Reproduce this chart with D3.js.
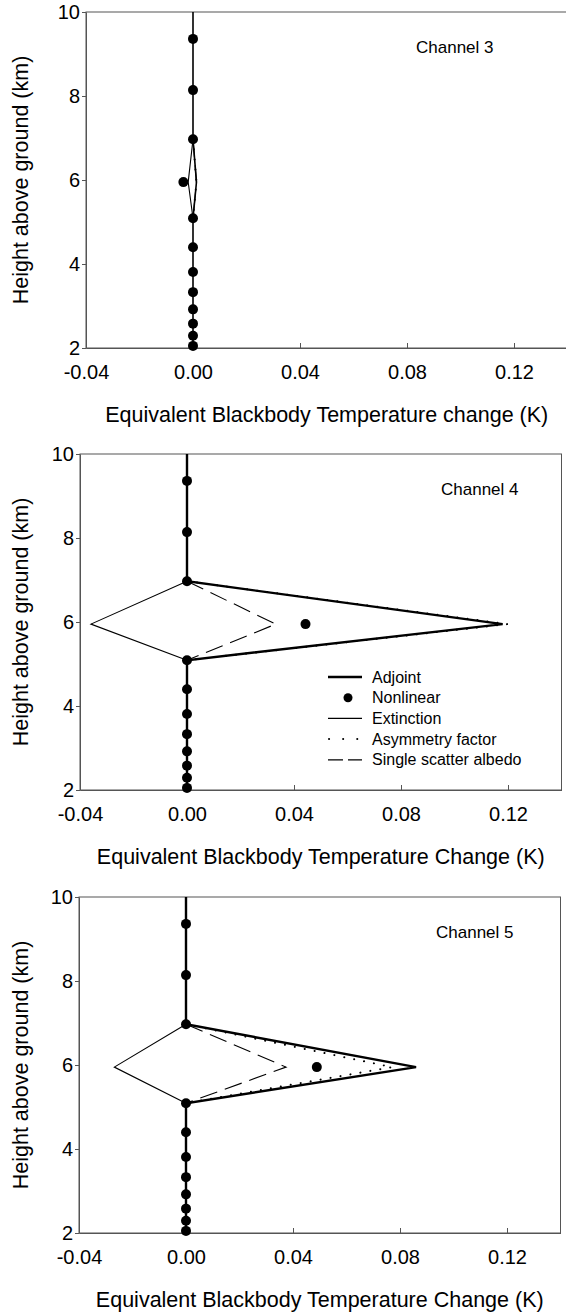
<!DOCTYPE html>
<html>
<head>
<meta charset="utf-8">
<script src="https://cdn.jsdelivr.net/npm/d3@7"></script>
<style>
    body { margin: 0; background: #fff; }
    svg { display: block; font-family: "Liberation Sans", Arial, sans-serif; }
</style>
</head>
<body>
<div id="chart"></div>
<script>
// levels (km) used by the adjoint profile, perturbed layer values per channel
const levels = [2.0, 2.05, 2.29, 2.58, 2.92, 3.33, 3.81, 4.40, 5.09, 5.95, 6.97, 8.14, 9.36, 10.0];
const adjoint3 = [0, 0, 0, 0, 0, 0, 0, 0, 0, 0.0013, 0, 0, 0, 0];
const adjoint4 = [0, 0, 0, 0, 0, 0, 0, 0, 0, 0.1180, 0, 0, 0, 0];
const adjoint5 = [0, 0, 0, 0, 0, 0, 0, 0, 0, 0.0860, 0, 0, 0, 0];

// nonlinear model points
const nlHeights = [2.05, 2.29, 2.58, 2.92, 3.33, 3.81, 4.40, 5.09, 5.95, 6.97, 8.14, 9.36];
const nonlinear3 = [0, 0, 0, 0, 0, 0, 0, 0, -0.0036, 0, 0, 0];
const nonlinear4 = [0, 0, 0, 0, 0, 0, 0, 0, 0.0443, 0, 0, 0];
const nonlinear5 = [0, 0, 0, 0, 0, 0, 0, 0, 0.0489, 0, 0, 0];

// contributions over the cloud layer
const layerHeights = [6.97, 5.95, 5.09];
const extinction3 = [0, -0.0018, 0];
const extinction4 = [0, -0.0359, 0];
const extinction5 = [0, -0.0268, 0];
const asymmetry3 = [0, 0.0013, 0];
const asymmetry4 = [0, 0.1197, 0];
const asymmetry5 = [0, 0.0770, 0];
const albedo3 = [0, 0.0013, 0];
const albedo4 = [0, 0.0332, 0];
const albedo5 = [0, 0.0374, 0];

const channels = ["Channel 3", "Channel 4", "Channel 5"];
const xTitles = ["Equivalent Blackbody Temperature change (K)",
                 "Equivalent Blackbody Temperature Change (K)",
                 "Equivalent Blackbody Temperature Change (K)"];
const yTitle = "Height above ground (km)";
const xTicks = [-0.04, 0.00, 0.04, 0.08, 0.12];
const yTicks = [2, 4, 6, 8, 10];
const legendNames = ["Adjoint", "Nonlinear", "Extinction", "Asymmetry factor", "Single scatter albedo"];

const width = 566, height = 1314;
const svg = d3.select("#chart").append("svg")
    .attr("width", width)
    .attr("height", height);

// panel placement
const panels = [
    { top: 12, left: 86, adj: adjoint3, nl: nonlinear3, ext: extinction3, asy: asymmetry3, ssa: albedo3, adjW: 1.6, labelX: 330, legend: false },
    { top: 454, left: 80, adj: adjoint4, nl: nonlinear4, ext: extinction4, asy: asymmetry4, ssa: albedo4, adjW: 2.4, labelX: 361, legend: true },
    { top: 897, left: 79, adj: adjoint5, nl: nonlinear5, ext: extinction5, asy: asymmetry5, ssa: albedo5, adjW: 2.4, labelX: 357, legend: false }
];
const plotW = 481.5, plotH = 336;
const frameColor = "#555";
// plain hyphen for negative ticks, as in the original figure
const fmtX = d => d3.format(".2f")(d).replace("\u2212", "-");

panels.forEach((p, i) => {
    const g = svg.append("g")
        .attr("transform", `translate(${p.left},${p.top})`);

    const x = d3.scaleLinear().domain([-0.04, 0.14]).range([0, plotW]);
    const y = d3.scaleLinear().domain([2, 10]).range([plotH, 0]);

    // frame
    g.append("rect")
        .attr("x", 0).attr("y", 0)
        .attr("width", plotW).attr("height", plotH)
        .attr("fill", "none")
        .attr("stroke", frameColor)
        .attr("stroke-width", 1);

    // x axis, ticks point inward
    const xAxis = g.append("g")
        .attr("transform", `translate(0,${plotH})`)
        .call(d3.axisBottom(x).tickValues(xTicks).tickFormat(fmtX).tickSizeInner(-5).tickSizeOuter(0).tickPadding(17));
    xAxis.select(".domain").attr("stroke", frameColor);
    xAxis.selectAll(".tick line").attr("stroke", frameColor);
    xAxis.selectAll(".tick text")
        .attr("fill", "#000")
        .style("font-size", "20px")
        .attr("dy", "0.71em");

    // y axis, ticks point outward
    const yAxis = g.append("g")
        .call(d3.axisLeft(y).tickValues(yTicks).tickFormat(d3.format("d")).tickSizeInner(4).tickSizeOuter(0).tickPadding(2));
    yAxis.select(".domain").attr("stroke", frameColor);
    yAxis.selectAll(".tick line").attr("stroke", frameColor);
    yAxis.selectAll(".tick text")
        .attr("fill", "#000")
        .style("font-size", "20px");

    const line = d3.line().x(d => x(d[0])).y(d => y(d[1]));

    // extinction (thin solid)
    g.append("path")
        .datum(p.ext.map((v, k) => [v, layerHeights[k]]))
        .attr("d", line)
        .attr("fill", "none")
        .attr("stroke", "#000")
        .attr("stroke-width", 1.1);

    // single scatter albedo (dashed)
    g.append("path")
        .datum(p.ssa.map((v, k) => [v, layerHeights[k]]))
        .attr("d", line)
        .attr("fill", "none")
        .attr("stroke", "#000")
        .attr("stroke-width", 1.1)
        .attr("stroke-dasharray", "18,8");

    // asymmetry factor (dotted)
    g.append("path")
        .datum(p.asy.map((v, k) => [v, layerHeights[k]]))
        .attr("d", line)
        .attr("fill", "none")
        .attr("stroke", "#000")
        .attr("stroke-width", 2)
        .attr("stroke-linecap", "round")
        .attr("stroke-dasharray", "0.1,10");

    // adjoint (thick solid)
    g.append("path")
        .datum(p.adj.map((v, k) => [v, levels[k]]))
        .attr("d", line)
        .attr("fill", "none")
        .attr("stroke", "#000")
        .attr("stroke-width", p.adjW)
        .attr("stroke-linejoin", "miter");

    // nonlinear dots
    g.selectAll(".nl-dot")
        .data(p.nl.map((v, k) => [v, nlHeights[k]]))
        .enter().append("circle")
        .attr("class", "nl-dot")
        .attr("cx", d => x(d[0]))
        .attr("cy", d => y(d[1]))
        .attr("r", 5)
        .attr("fill", "#000");

    // channel label
    g.append("text")
        .attr("x", p.labelX)
        .attr("y", 41)
        .text(channels[i])
        .style("font-size", "17px");

    // axis titles
    g.append("text")
        .attr("x", plotW / 2)
        .attr("y", plotH + 74)
        .attr("text-anchor", "middle")
        .style("font-size", "21.5px")
        .text(xTitles[i]);

    g.append("text")
        .attr("transform", "rotate(-90)")
        .attr("x", -plotH / 2)
        .attr("y", -p.left + 28)
        .attr("text-anchor", "middle")
        .style("font-size", "21.5px")
        .text(yTitle);

    if (p.legend) {
        const lg = g.append("g").attr("transform", "translate(248,223)");
        const rowH = 20.7;
        legendNames.forEach((name, k) => {
            const row = lg.append("g").attr("transform", `translate(0,${k * rowH})`);
            if (k === 1) {
                row.append("circle").attr("cx", 20).attr("cy", 0).attr("r", 4.5).attr("fill", "#000");
            } else {
                const seg = row.append("line")
                    .attr("x1", 0).attr("x2", 34)
                    .attr("y1", 0).attr("y2", 0)
                    .attr("stroke", "#000");
                if (k === 0) seg.attr("stroke-width", 2.4);
                if (k === 2) seg.attr("stroke-width", 1.3);
                if (k === 3) seg.attr("x1", 1).attr("stroke-width", 2).attr("stroke-linecap", "round").attr("stroke-dasharray", "0.1,14");
                if (k === 4) seg.attr("stroke-width", 1.3).attr("stroke-dasharray", "15,5");
            }
            row.append("text")
                .attr("x", 44)
                .attr("y", 0)
                .attr("dy", "0.35em")
                .style("font-size", "16px")
                .text(name);
        });
    }
});
</script>
</body>
</html>
